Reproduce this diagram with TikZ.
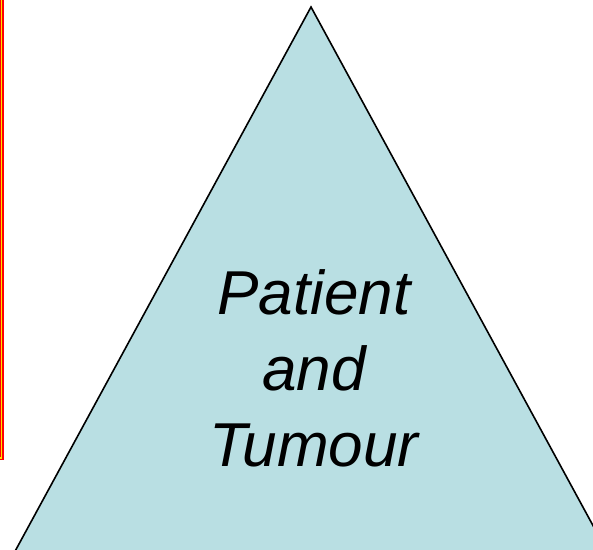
\documentclass[tikz,border=0pt]{standalone}
\usepackage{fontspec}
\setmainfont{Liberation Sans}
\usepackage{tikz}
\usetikzlibrary{positioning, calc}

\begin{document}
\begin{tikzpicture}[
  x=1bp, y=-1bp,
  execute at begin picture={
    \definecolor{pyramidblue}{RGB}{185,223,227}
    \definecolor{frameyellow}{RGB}{255,230,0}
  },
  pyramid/.style={
    draw=black,
    line width=1.6bp,
    fill=pyramidblue,
    line join=miter
  },
  frameouter/.style={draw=red, line width=3.4bp},
  frameinner/.style={draw=frameyellow, line width=1.1bp},
  biglabel/.style={
    align=center,
    inner sep=0pt,
    font=\fontsize{62bp}{76bp}\selectfont\itshape
  }
]
\useasboundingbox (0,0) rectangle (593,550);

% cropped frame on the left
\draw[frameouter] (-20,-20) rectangle (1.8,458);
\draw[frameinner] (-20,-20) rectangle (1.8,458);

% the pyramid
\coordinate (apex) at (311,7);
\coordinate (baseleft) at (13,555);
\coordinate (baseright) at (609,555);
\draw[pyramid] (apex) -- (baseright) -- (baseleft) -- cycle;

\node[biglabel] (patient) at (314,368) {Patient\\and\\Tumour};

\end{tikzpicture}
\end{document}
